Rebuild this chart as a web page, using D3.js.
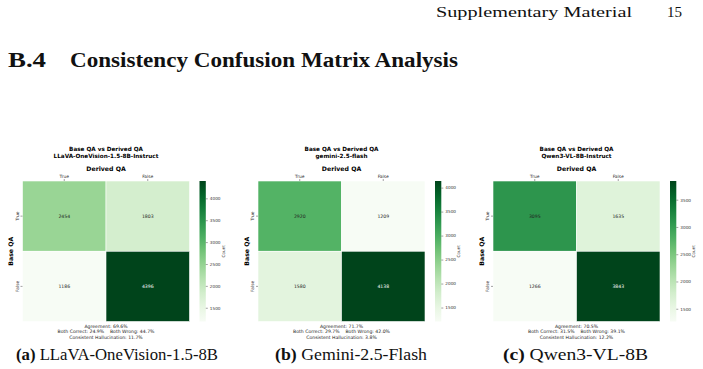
<!DOCTYPE html>
<html>
<head>
<meta charset="utf-8">
<script src="https://cdn.jsdelivr.net/npm/d3@7"></script>
<style>
  body { margin: 0; background: #fff; }
  svg { display: block; }
  .serif { font-family: "Liberation Serif", "DejaVu Serif", serif; fill: #111; }
  .fig { font-family: "DejaVu Sans", sans-serif; }
</style>
</head>
<body>
<div id="page"></div>
<script>
// chart values
const MODELS = ["LLaVA-OneVision-1.5-8B-Instruct", "gemini-2.5-flash", "Qwen3-VL-8B-Instruct"];
const CAPTION_TAGS = ["(a)", "(b)", "(c)"];
const CAPTIONS = ["LLaVA-OneVision-1.5-8B", "Gemini-2.5-Flash", "Qwen3-VL-8B"];
const LABELS = ["True", "False"];
// rows = Base QA, cols = Derived QA
const COUNTS = [
  [[2454, 1803], [1186, 4396]],
  [[2920, 1209], [1580, 4138]],
  [[3095, 1635], [1266, 3843]]
];
const AGREEMENT = [69.6, 71.7, 70.5];
const BOTH_CORRECT = [24.9, 29.7, 31.5];
const BOTH_WRONG = [44.7, 42.0, 39.1];
const HALLUCINATION = [11.7, 3.8, 12.2];
const CBAR_TICKS = [1500, 2000, 2500, 3000, 3500, 4000];

const WIDTH = 703, HEIGHT = 369;
// where each heatmap and caption sits on the page
const PANELS = [
  {left: 22.5, right: 189.5, capX: 16, capW: 202},
  {left: 258, right: 425, capX: 275, capW: 152},
  {left: 493, right: 660, capX: 503, capW: 145}
];
const HM_TOP = 181, HM_BOTTOM = 321.5;

const svg = d3.select("#page").append("svg")
  .attr("width", WIDTH)
  .attr("height", HEIGHT);

// page header
svg.append("text").attr("class", "serif")
  .attr("x", 436).attr("y", 17)
  .attr("font-size", 15)
  .attr("textLength", 196).attr("lengthAdjust", "spacingAndGlyphs")
  .text("Supplementary Material");
svg.append("text").attr("class", "serif")
  .attr("x", 667).attr("y", 17)
  .attr("font-size", 15)
  .text("15");

svg.append("text").attr("class", "serif")
  .attr("x", 8).attr("y", 67)
  .attr("font-size", 20).attr("font-weight", "bold")
  .attr("textLength", 38).attr("lengthAdjust", "spacingAndGlyphs")
  .text("B.4");
svg.append("text").attr("class", "serif")
  .attr("x", 70).attr("y", 67)
  .attr("font-size", 20).attr("font-weight", "bold")
  .attr("textLength", 388).attr("lengthAdjust", "spacingAndGlyphs")
  .text("Consistency Confusion Matrix Analysis");

function textColor(c) {
  const rgb = d3.rgb(c);
  const lum = (0.2126 * rgb.r + 0.7152 * rgb.g + 0.0722 * rgb.b) / 255;
  return lum < 0.45 ? "#fff" : "#222";
}

const defs = svg.append("defs");

PANELS.forEach((p, i) => {
  const data = COUNTS[i];
  const flat = data.flat();
  const ext = d3.extent(flat);
  const g = svg.append("g").attr("class", "fig");
  const cx = (p.left + p.right) / 2;

  const X = d3.scaleBand().domain(LABELS).range([p.left, p.right]);
  const Y = d3.scaleBand().domain(LABELS).range([HM_TOP, HM_BOTTOM]);
  const COLOR = d3.scaleSequential(d3.interpolateGreens).domain(ext);

  // titles
  g.append("text").attr("x", cx).attr("y", 151)
    .attr("text-anchor", "middle").attr("font-size", 5.7).attr("font-weight", "bold")
    .text("Base QA vs Derived QA");
  g.append("text").attr("x", cx).attr("y", 158)
    .attr("text-anchor", "middle").attr("font-size", 5.7).attr("font-weight", "bold")
    .text(MODELS[i]);
  g.append("text").attr("x", cx).attr("y", 170.5)
    .attr("text-anchor", "middle").attr("font-size", 6.2).attr("font-weight", "bold")
    .text("Derived QA");

  // cells
  const cells = [];
  LABELS.forEach((r, ri) => LABELS.forEach((c, ci) => cells.push({r, c, v: data[ri][ci]})));
  g.selectAll("rect.cell").data(cells).enter().append("rect")
    .attr("x", d => X(d.c)).attr("y", d => Y(d.r))
    .attr("width", X.bandwidth()).attr("height", Y.bandwidth())
    .attr("fill", d => COLOR(d.v))
    .attr("stroke", "#fff").attr("stroke-width", 0.6);
  g.selectAll("text.ann").data(cells).enter().append("text")
    .attr("x", d => X(d.c) + X.bandwidth() / 2)
    .attr("y", d => Y(d.r) + Y.bandwidth() / 2 + 1.6)
    .attr("text-anchor", "middle").attr("font-size", 4.6)
    .attr("fill", d => textColor(COLOR(d.v)))
    .text(d => d.v);

  // axes
  const xa = g.append("g").attr("transform", "translate(0," + HM_TOP + ")")
    .call(d3.axisTop(X).tickSize(2).tickPadding(1));
  const ya = g.append("g").attr("transform", "translate(" + p.left + ",0)")
    .call(d3.axisLeft(Y).tickSize(2).tickPadding(1));
  [xa, ya].forEach(a => {
    a.select(".domain").remove();
    a.selectAll("line").attr("stroke", "#444").attr("stroke-width", 0.5);
    a.selectAll("text").attr("font-size", 4.4).attr("fill", "#333")
      .attr("font-family", "DejaVu Sans");
  });
  ya.selectAll("text")
    .attr("text-anchor", "middle").attr("dy", 0).attr("x", 0).attr("y", 0)
    .attr("transform", "translate(-4,0) rotate(-90)");

  g.append("text")
    .attr("transform", "translate(" + (p.left - 9.5) + "," + ((HM_TOP + HM_BOTTOM) / 2) + ") rotate(-90)")
    .attr("text-anchor", "middle").attr("font-size", 6.2).attr("font-weight", "bold")
    .text("Base QA");

  // colorbar
  const cbX = p.right + 10, cbW = 6.3;
  const gid = "grad" + i;
  const grad = defs.append("linearGradient").attr("id", gid)
    .attr("x1", 0).attr("y1", 1).attr("x2", 0).attr("y2", 0);
  d3.range(0, 1.0001, 0.1).forEach(t => {
    grad.append("stop").attr("offset", t).attr("stop-color", d3.interpolateGreens(t));
  });
  g.append("rect").attr("x", cbX).attr("y", HM_TOP)
    .attr("width", cbW).attr("height", HM_BOTTOM - HM_TOP)
    .attr("fill", "url(#" + gid + ")");
  const CB = d3.scaleLinear().domain(ext).range([HM_BOTTOM, HM_TOP]);
  const cba = g.append("g").attr("transform", "translate(" + (cbX + cbW) + ",0)")
    .call(d3.axisRight(CB).tickValues(CBAR_TICKS.filter(t => t >= ext[0] && t <= ext[1]))
      .tickFormat(d3.format("d")).tickSize(2).tickPadding(2));
  cba.select(".domain").remove();
  cba.selectAll("line").attr("stroke", "#444").attr("stroke-width", 0.5);
  cba.selectAll("text").attr("font-size", 4.2).attr("fill", "#333")
    .attr("font-family", "DejaVu Sans");
  g.append("text")
    .attr("transform", "translate(" + (cbX + cbW + 19) + "," + ((HM_TOP + HM_BOTTOM) / 2) + ") rotate(-90)")
    .attr("text-anchor", "middle").attr("font-size", 4.2).attr("fill", "#333")
    .text("Count");

  // stats below
  const stats = [
    "Agreement: " + AGREEMENT[i].toFixed(1) + "%",
    "Both Correct: " + BOTH_CORRECT[i].toFixed(1) + "%    Both Wrong: " + BOTH_WRONG[i].toFixed(1) + "%",
    "Consistent Hallucination: " + HALLUCINATION[i].toFixed(1) + "%"
  ];
  stats.forEach((s, k) => {
    g.append("text").attr("x", cx).attr("y", 327.8 + k * 5.4)
      .attr("text-anchor", "middle").attr("font-size", 4.6).attr("fill", "#222")
      .style("white-space", "pre")
      .text(s);
  });

  // caption
  const cap = svg.append("text").attr("class", "serif")
    .attr("x", p.capX).attr("y", 360)
    .attr("font-size", 16)
    .attr("textLength", p.capW).attr("lengthAdjust", "spacingAndGlyphs");
  cap.append("tspan").attr("font-weight", "bold").text(CAPTION_TAGS[i]);
  cap.append("tspan").text(" " + CAPTIONS[i]);
});
</script>
</body>
</html>
